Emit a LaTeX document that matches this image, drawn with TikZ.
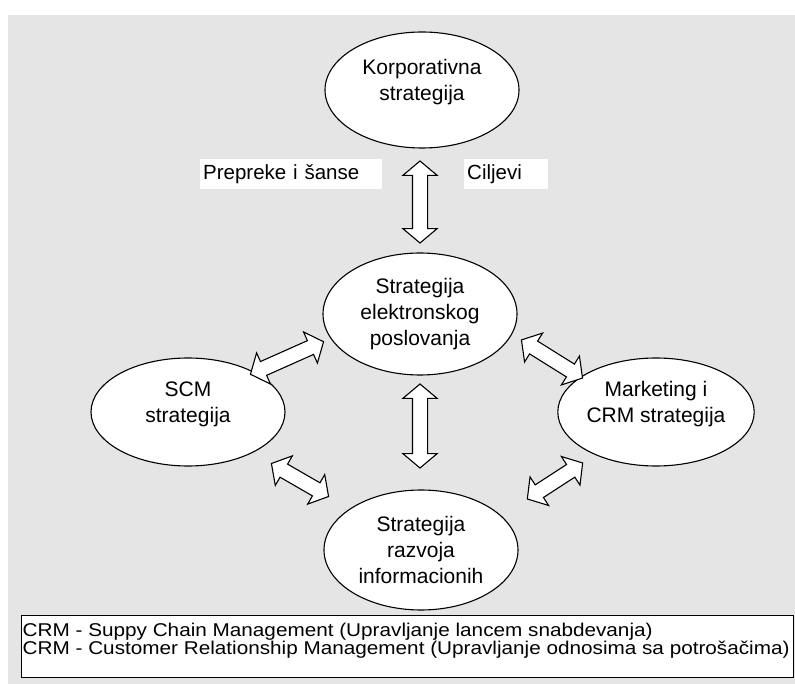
\documentclass[tikz,border=0pt]{standalone}
\usepackage{fontspec}
\setmainfont{Liberation Sans}
\newfontfamily\legendfont{Liberation Sans}[FakeStretch=1.12]
\usetikzlibrary{shapes.geometric,shapes.arrows}
\definecolor{bggray}{RGB}{229,229,229}

\begin{document}
\begin{tikzpicture}[x=1pt,y=-1pt,
    strat/.style={draw, ellipse, fill=white, line width=1.1pt, inner sep=0pt, align=center,
        minimum width=194pt, minimum height=110pt, font=\fontsize{21}{26}\selectfont},
    blockarrow/.style={draw, double arrow, fill=white, line width=1.1pt, inner xsep=0pt, inner ysep=7pt,
        double arrow head extend=9.5pt, double arrow tip angle=100},
    lbl/.style={fill=white, inner xsep=3pt, minimum height=30pt, anchor=west, align=left,
        font=\fontsize{20.5}{24}\selectfont},
    legtext/.style={anchor=base west, inner sep=0pt, font=\legendfont\fontsize{18.5}{20}\selectfont}]
\useasboundingbox (0,0) rectangle (795,684);
\fill[bggray] (8,15) rectangle (795,684);

\node[strat, minimum height=116pt, text depth=20pt] (korp) at (422,90) {Korporativna\\strategija};
\node[strat, minimum height=122pt] (eposl) at (420,314) {Strategija\\elektronskog\\poslovanja};
\node[strat, minimum height=108pt, text depth=20pt] (scm) at (188,412) {SCM\\strategija};
\node[strat, minimum height=108pt, text depth=20pt] (mkt) at (656,412) {Marketing i\\CRM strategija};
\node[strat, minimum height=120pt] (razv) at (421,550) {Strategija\\razvoja\\informacionih};

\node[lbl, text width=176pt] (prep) at (200,174) {Prepreke i šanse};
\node[lbl, text width=78pt] (cilj) at (464,174) {Ciljevi};

\node[blockarrow, minimum height=82pt, rotate=90] (a1) at (420,202) {};
\node[blockarrow, minimum height=84pt, rotate=90] (a2) at (420,426) {};
\node[blockarrow, minimum height=80pt, rotate=24] (a3) at (287,358) {};
\node[blockarrow, minimum height=72pt, rotate=-32] (a4) at (552,359) {};
\node[blockarrow, minimum height=66pt, rotate=-30] (a5) at (300,480) {};
\node[blockarrow, minimum height=66pt, rotate=33] (a6) at (555,481) {};

\node[draw, fill=white, line width=1.1pt, anchor=north west, minimum width=772pt, minimum height=62pt] (legend) at (21,615) {};
\node[legtext] (leg1) at (22.5,636) {CRM - Suppy Chain Management (Upravljanje lancem snabdevanja)};
\node[legtext] (leg2) at (22.5,654) {CRM - Customer Relationship Management (Upravljanje odnosima sa potrošačima)};
\end{tikzpicture}
\end{document}
